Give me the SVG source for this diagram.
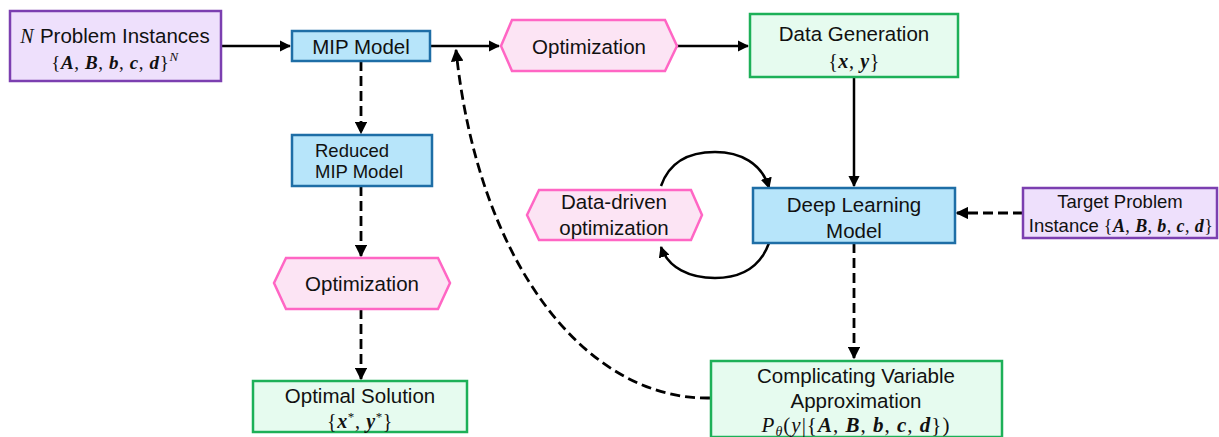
<svg xmlns="http://www.w3.org/2000/svg" width="1219" height="437" viewBox="0 0 1219 437">
<defs>
<style>
.t{font-family:"Liberation Sans",Arial,sans-serif;font-size:20.5px;fill:#111;text-anchor:middle}
.m{font-family:"Liberation Serif","Times New Roman",serif;font-size:20px;fill:#111;text-anchor:middle;letter-spacing:0.6px}
.purple{fill:#EEE0FC;stroke:#7B3FB0;stroke-width:2.5}
.blue{fill:#B7E5FA;stroke:#1E6EA6;stroke-width:2.5}
.green{fill:#E6FBEF;stroke:#1DB058;stroke-width:2.5}
.pink{fill:#FCE4F4;stroke:#FF66C4;stroke-width:2.5}
.c{fill:none;stroke:#000;stroke-width:2.5}
.d{fill:none;stroke:#000;stroke-width:2.8;stroke-dasharray:10,5}
</style>
<marker id="ah" viewBox="0 0 10 10" refX="9" refY="5" markerWidth="4.5" markerHeight="4.5" orient="auto" markerUnits="strokeWidth">
<path d="M0,0 L10,5 L0,10 z" fill="#000"/>
</marker>
</defs>

<g id="connectors">
<path class="c" d="M221,46 L290,46" marker-end="url(#ah)"/>
<path class="c" d="M430,46 L499,46" marker-end="url(#ah)"/>
<path class="c" d="M677,46 L748,46" marker-end="url(#ah)"/>
<path class="c" d="M854,77 L854,186" marker-end="url(#ah)"/>
<path class="d" d="M1023,213 L957,213" marker-end="url(#ah)"/>
<path class="d" d="M854,243 L854,358" marker-end="url(#ah)"/>
<path class="d" d="M361,61 L361,133" marker-end="url(#ah)"/>
<path class="d" d="M361,186 L361,256" marker-end="url(#ah)"/>
<path class="d" d="M361,309 L361,379" marker-end="url(#ah)"/>
<path class="d" d="M710,398 C585,400 478,262 456,50" marker-end="url(#ah)"/>
<path class="c" d="M661,186 C670,160 692,152 715,152 C740,152 762,163 769,188" marker-end="url(#ah)"/>
<path class="c" d="M769,243 C760,268 740,278 715,278 C690,278 668,268 661,247" marker-end="url(#ah)"/>
</g>

<g id="n-problem">
<rect class="purple" x="10" y="11" width="211" height="70"/>
<text class="t" x="115" y="43"><tspan class="m" style="font-style:italic">N</tspan> Problem Instances</text>
<text class="m" x="115" y="69" style="font-size:19px">{<tspan font-weight="bold" font-style="italic">A</tspan>, <tspan font-weight="bold" font-style="italic">B</tspan>, <tspan font-weight="bold" font-style="italic">b</tspan>, <tspan font-weight="bold" font-style="italic">c</tspan>, <tspan font-weight="bold" font-style="italic">d</tspan>}<tspan font-style="italic" font-size="13" dy="-8">N</tspan></text>
</g>

<g id="mip-model">
<rect class="blue" x="292" y="31" width="138" height="30"/>
<text class="t" x="361" y="53.5">MIP Model</text>
</g>

<g id="optimization-top">
<polygon class="pink" points="501,46 512,20 665,20 677,46 665,71 512,71"/>
<text class="t" x="589" y="53.5">Optimization</text>
</g>

<g id="data-generation">
<rect class="green" x="750" y="14" width="208" height="63"/>
<text class="t" x="854" y="41">Data Generation</text>
<text class="m" x="854" y="68">{<tspan font-weight="bold" font-style="italic">x</tspan>, <tspan font-weight="bold" font-style="italic">y</tspan>}</text>
</g>

<g id="reduced-mip">
<rect class="blue" x="292" y="135" width="140" height="51"/>
<text class="t" x="315" y="157" style="font-size:18.5px;text-anchor:start">Reduced</text>
<text class="t" x="315" y="178" style="font-size:18.5px;text-anchor:start">MIP Model</text>
</g>

<g id="optimization-mid">
<polygon class="pink" points="274,283 286,258 438,258 450,283 438,309 286,309"/>
<text class="t" x="362" y="291">Optimization</text>
</g>

<g id="optimal-solution">
<rect class="green" x="253" y="381" width="214" height="51"/>
<text class="t" x="360" y="403">Optimal Solution</text>
<text class="m" x="360" y="428">{<tspan font-weight="bold" font-style="italic">x</tspan><tspan font-size="13" dy="-7">*</tspan><tspan dy="7">, </tspan><tspan font-weight="bold" font-style="italic">y</tspan><tspan font-size="13" dy="-7">*</tspan><tspan dy="7">}</tspan></text>
</g>

<g id="data-driven">
<polygon class="pink" points="527,215 539,190 691,190 702,215 691,240 539,240"/>
<text class="t" x="614" y="209">Data-driven</text>
<text class="t" x="614" y="235">optimization</text>
</g>

<g id="deep-learning">
<rect class="blue" x="753" y="188" width="202" height="55"/>
<text class="t" x="854" y="212">Deep Learning</text>
<text class="t" x="854" y="238">Model</text>
</g>

<g id="target-problem">
<rect class="purple" x="1023" y="188" width="194" height="50"/>
<text class="t" x="1120" y="208" style="font-size:18.5px">Target Problem</text>
<text class="t" x="1121" y="232" style="font-size:18.5px">Instance <tspan class="m" style="font-size:18px;letter-spacing:0.4px">{<tspan font-weight="bold" font-style="italic">A</tspan>, <tspan font-weight="bold" font-style="italic">B</tspan>, <tspan font-weight="bold" font-style="italic">b</tspan>, <tspan font-weight="bold" font-style="italic">c</tspan>, <tspan font-weight="bold" font-style="italic">d</tspan>}</tspan></text>
</g>

<g id="complicating">
<rect class="green" x="711" y="361" width="291" height="76"/>
<text class="t" x="856" y="383">Complicating Variable</text>
<text class="t" x="856" y="408">Approximation</text>
<text class="m" x="856" y="432" style="font-size:21px;letter-spacing:1px"><tspan font-style="italic">P</tspan><tspan font-style="italic" font-size="14" dy="4">θ</tspan><tspan dy="-4">(</tspan><tspan font-style="italic">y</tspan>|{<tspan font-weight="bold" font-style="italic">A</tspan>, <tspan font-weight="bold" font-style="italic">B</tspan>, <tspan font-weight="bold" font-style="italic">b</tspan>, <tspan font-weight="bold" font-style="italic">c</tspan>, <tspan font-weight="bold" font-style="italic">d</tspan>})</text>
</g>
</svg>
